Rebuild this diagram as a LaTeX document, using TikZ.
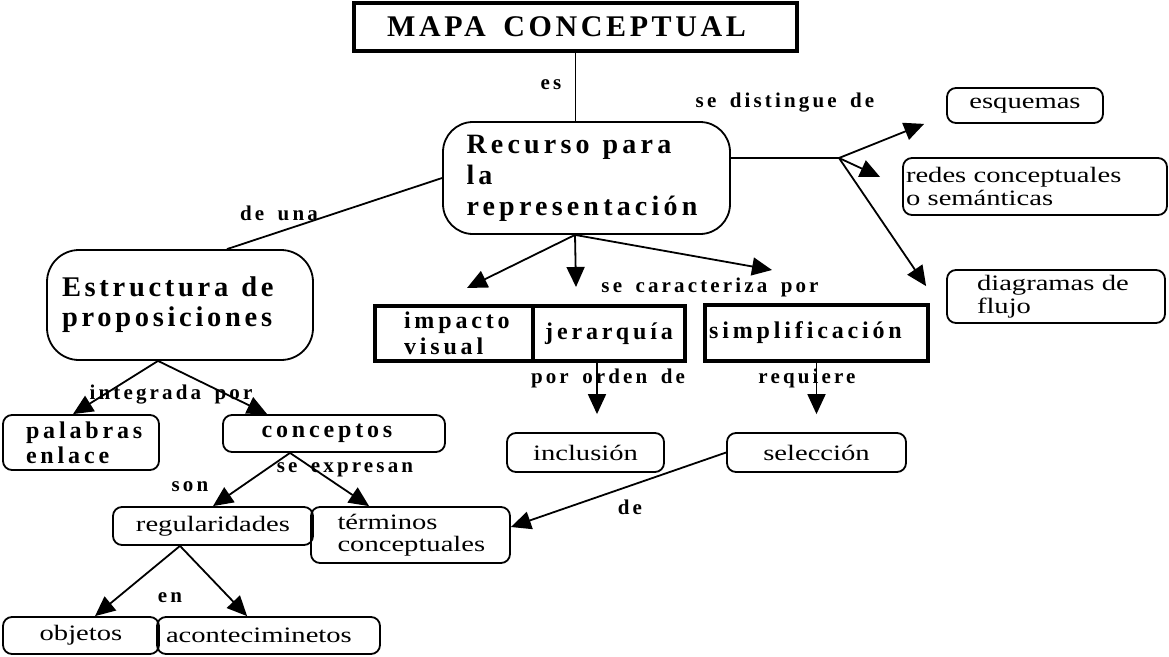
\documentclass[tikz,border=0pt]{standalone}
\usepackage{fontspec}
\setmainfont{Liberation Serif}
\newfontfamily\regfont[FakeStretch=1.3]{Liberation Serif}
\newfontfamily\lblfont[WordSpace=1.6]{Liberation Serif}
\usetikzlibrary{arrows.meta}
\usetikzlibrary{calc}
\newcommand{\spaced}[3] % size, baselineskip, letter spacing
{\lblfont\fontsize{#1}{#2}\selectfont\bfseries\addfontfeature{LetterSpace=#3}}
\newcommand{\gap}{\hspace{13pt}}

\tikzset{
	concept/.style={draw, rounded corners=9pt, line width=1.8pt, inner sep=0pt,
		font=\regfont\fontsize{22}{22.5}\selectfont},
	keybox/.style={draw, line width=3.5pt, inner sep=0pt, font=\spaced{24}{26}{16}},
	bigconcept/.style={draw, rounded corners=30pt, line width=1.8pt, inner sep=0pt},
	link/.style={inner sep=0pt, font=\spaced{21}{22}{15}},
	conn/.style={line width=1.8pt},
	arr/.style={line width=1.8pt, -{Triangle[length=20pt,width=18pt]}}
}

\begin{document}
\begin{tikzpicture}[x=1pt, y=-1pt]
	\useasboundingbox (0,0) rectangle (1169,656);
	% 1px = 1pt, y downwards
	\node[keybox, font=\spaced{30}{31}{12}, minimum width=443pt, minimum height=48pt] (mapa) at (575.5,27) {MAPA CONCEPTUAL\hspace*{18pt}};
	\node[bigconcept, font=\spaced{28}{31}{15}, minimum width=287pt, minimum height=112pt,
		text width=240pt, align=left] (recurso) at (586.5,178) {Recurso\gap para\\la\\representación};
	\node[bigconcept, rounded corners=32pt, font=\spaced{28.5}{30}{13}, minimum width=266pt, minimum height=110pt,
		text width=236pt, align=left] (estructura) at (180,305) {Estructura\gap de\\proposiciones};
	
	% se distingue de
	\node[concept, minimum width=156pt, minimum height=35pt] (esquemas) at (1025,105.5) {esquemas};
	\node[concept, minimum width=264pt, minimum height=57pt, text width=258pt, align=left] (redes) at (1035,186.5) {redes conceptuales\\o semánticas};
	\node[concept, minimum width=218pt, minimum height=53pt, text width=158pt, align=left] (diagramas) at (1056,296.5) {diagramas de\\flujo};
	
	% se caracteriza por
	\node[keybox, minimum width=158pt, minimum height=55pt, text width=100pt, align=left] (impacto) at (454,333.5) {impacto\\visual};
	\node[keybox, minimum width=152pt, minimum height=55pt] (jerarquia) at (609,333.5) {jerarquía};
	\node[keybox, minimum width=223pt, minimum height=56pt] (simplificacion) at (816.5,333) {simplificación\hspace*{22pt}};
	\node[concept, minimum width=157pt, minimum height=39pt] (inclusion) at (585.5,452.5) {inclusión};
	\node[concept, minimum width=179pt, minimum height=39pt] (seleccion) at (816.5,452.5) {selección};
	
	% integrada por
	\node[concept, font=\spaced{24}{25}{16}, minimum width=156pt, minimum height=55pt, text width=110pt, align=left] (palabras) at (81,442.5) {palabras\\enlace};
	\node[concept, font=\spaced{24}{25}{16}, minimum width=222pt, minimum height=37pt] (conceptos) at (334,433.5) {conceptos\hspace*{14pt}};
	\node[concept, minimum width=200pt, minimum height=38pt] (regularidades) at (213,526) {regularidades};
	\node[concept, minimum width=199pt, minimum height=56pt, text width=146pt, align=left] (terminos) at (410.5,535) {términos\\conceptuales};
	\node[concept, minimum width=156pt, minimum height=37pt] (objetos) at (81,635.5) {objetos};
	\node[concept, minimum width=223pt, minimum height=37pt, text width=205pt, align=left] (aconteci) at (268.5,635.5) {aconteciminetos};
	
	% linking words
	\node[link] (es) at (551,85) {es};
	\node[link] (distingue) at (785,103) {se distingue de};
	\node[link] (deuna) at (279,213) {de una};
	\node[link] (caracteriza) at (710,287) {se caracteriza por};
	\node[link] (integrada) at (171,395) {integrada por};
	\node[link] (orden) at (608,378) {por orden de};
	\node[link] (requiere) at (807,378) {requiere};
	\node[link] (expresan) at (345,470) {se expresan};
	\node[link] (son) at (190,487) {son};
	\node[link] (en) at (170,598) {en};
	\node[link] (de) at (630,507) {de};
	
	% free ends and forks
	\coordinate (fork) at (839,158);
	\coordinate (rs) at ([xshift=-11.5pt]recurso.south);
	\coordinate (tipimpacto) at (467,288);
	\coordinate (tipjerarquia) at (576,287);
	\coordinate (tipsimpl) at (772,270);
	\coordinate (es0) at ([xshift=-22pt]estructura.south);
	\coordinate (c0) at ([xshift=-44pt]conceptos.south);
	\coordinate (r0) at ([xshift=-33pt]regularidades.south);
	
	\draw[conn] (mapa.south) -- (mapa.south |- recurso.north);
	\draw[conn] (recurso.west) -- ([xshift=47pt]estructura.north);
	\draw[conn] ([yshift=20pt]recurso.east) -- (fork);
	\draw[arr] (fork) -- ([xshift=-22pt]esquemas.south west);
	\draw[arr] (fork) -- ([xshift=-22pt,yshift=9.5pt]redes.west);
	\draw[arr] (fork) -- ([xshift=-20pt,yshift=-17pt]diagramas.north west);
	
	\draw[arr] (rs) -- (tipimpacto);
	\draw[arr] (rs) -- (tipjerarquia);
	\draw[arr] (rs) -- (tipsimpl);
	\draw[arr, shorten >=18pt] ([xshift=-12pt]jerarquia.south) -- ([xshift=-12pt]jerarquia.south |- inclusion.north);
	\draw[arr, shorten >=18pt] (simplificacion.south) -- (simplificacion.south |- seleccion.north);
	\draw[arr] (seleccion.west) -- ([yshift=8pt]terminos.east);
	
	\draw[arr] (es0) -- ([xshift=-8pt]palabras.north);
	\draw[arr] (es0) -- ([xshift=45pt]conceptos.north west);
	\draw[arr] (c0) -- (regularidades.north);
	\draw[arr] (c0) -- ([xshift=59pt]terminos.north west);
	\draw[arr] (r0) -- ([xshift=14pt]objetos.north);
	\draw[arr] (r0) -- ([xshift=91pt]aconteci.north west);
	
\end{tikzpicture}
\end{document}
